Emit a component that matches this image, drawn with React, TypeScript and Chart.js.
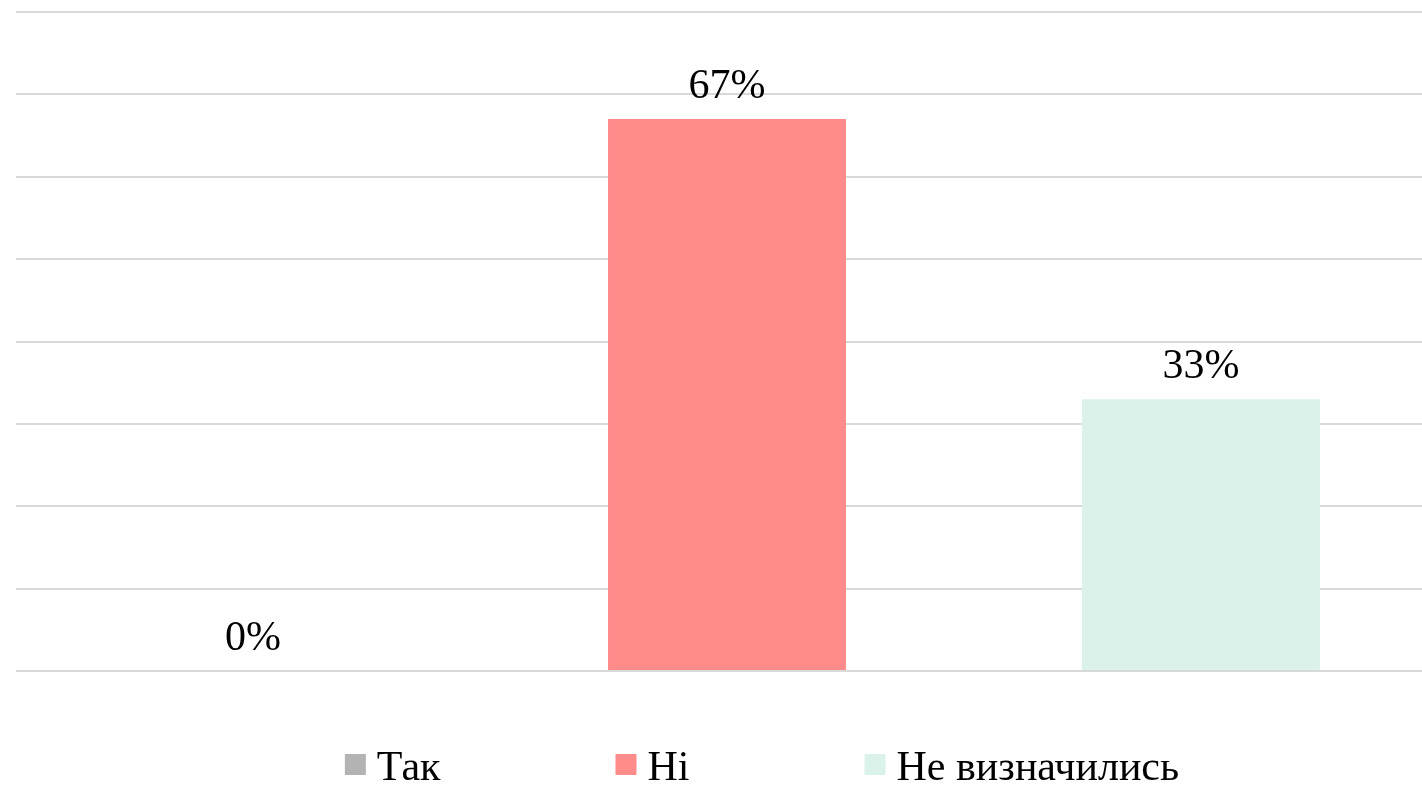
import React, { useEffect, useRef } from "react";
import { Chart, registerables } from "chart.js";

Chart.register(...registerables);

const categories = ["Так", "Ні", "Не визначились"];
const values = [0, 0.67, 0.33];
const valueLabels = ["0%", "67%", "33%"];
const colors = ["#b3b3b3", "#ff8b8b", "#dbf2ea"];
const yMin = 0;
const yMax = 0.8;
const yStep = 0.1;

const FONT = "'Liberation Serif', 'Times New Roman', serif";

const valueLabelPlugin = {
  id: "valueLabels",
  afterDatasetsDraw(chart: any) {
    const ctx = chart.ctx;
    const meta = chart.getDatasetMeta(0);
    ctx.save();
    ctx.font = `42px ${FONT}`;
    ctx.fillStyle = "#000000";
    ctx.textAlign = "center";
    ctx.textBaseline = "alphabetic";
    meta.data.forEach((bar: any, i: number) => {
      ctx.fillText(valueLabels[i], bar.x, bar.y - 21);
    });
    ctx.restore();
  },
};

const legendPlugin = {
  id: "customLegend",
  afterDraw(chart: any) {
    const ctx = chart.ctx;
    ctx.save();
    ctx.font = `42px ${FONT}`;
    const box = 21;
    const gapText = 11;
    const gapItem = 175;
    const widths = categories.map((c) => box + gapText + ctx.measureText(c).width);
    const total = widths.reduce((a, b) => a + b, 0) + gapItem * (categories.length - 1);
    let x = 762 - total / 2;
    const baseline = 780;
    ctx.textAlign = "left";
    ctx.textBaseline = "alphabetic";
    categories.forEach((c, i) => {
      ctx.fillStyle = colors[i];
      ctx.fillRect(x, 754, box, box);
      ctx.fillStyle = "#000000";
      ctx.fillText(c, x + box + gapText, baseline);
      x += widths[i] + gapItem;
    });
    ctx.restore();
  },
};

export default function App() {
  const ref = useRef<HTMLCanvasElement | null>(null);
  useEffect(() => {
    if (!ref.current) return;
    const chart = new Chart(ref.current, {
      type: "bar",
      data: {
        labels: categories,
        datasets: [
          {
            data: values,
            backgroundColor: colors,
            borderWidth: 0,
            categoryPercentage: 1,
            barPercentage: 0.502,
          },
        ],
      },
      options: {
        responsive: false,
        animation: false,
        layout: { padding: { left: 16, right: 16, top: 12, bottom: 115 } },
        plugins: {
          legend: { display: false },
          tooltip: { enabled: false },
        },
        scales: {
          x: { display: false },
          y: {
            display: true,
            min: yMin,
            max: yMax,
            ticks: { display: false, stepSize: yStep },
            grid: { color: "#d9d9d9", lineWidth: 2, drawTicks: false },
            border: { display: false },
          },
        },
      },
      plugins: [valueLabelPlugin, legendPlugin],
    });
    return () => chart.destroy();
  }, []);
  return (
    <div
      style={{
        position: "fixed",
        left: 0,
        top: 0,
        width: 1422,
        height: 786,
        overflow: "hidden",
        background: "#ffffff",
      }}
    >
      <canvas ref={ref} width={1454} height={786} style={{ display: "block" }} />
    </div>
  );
}
